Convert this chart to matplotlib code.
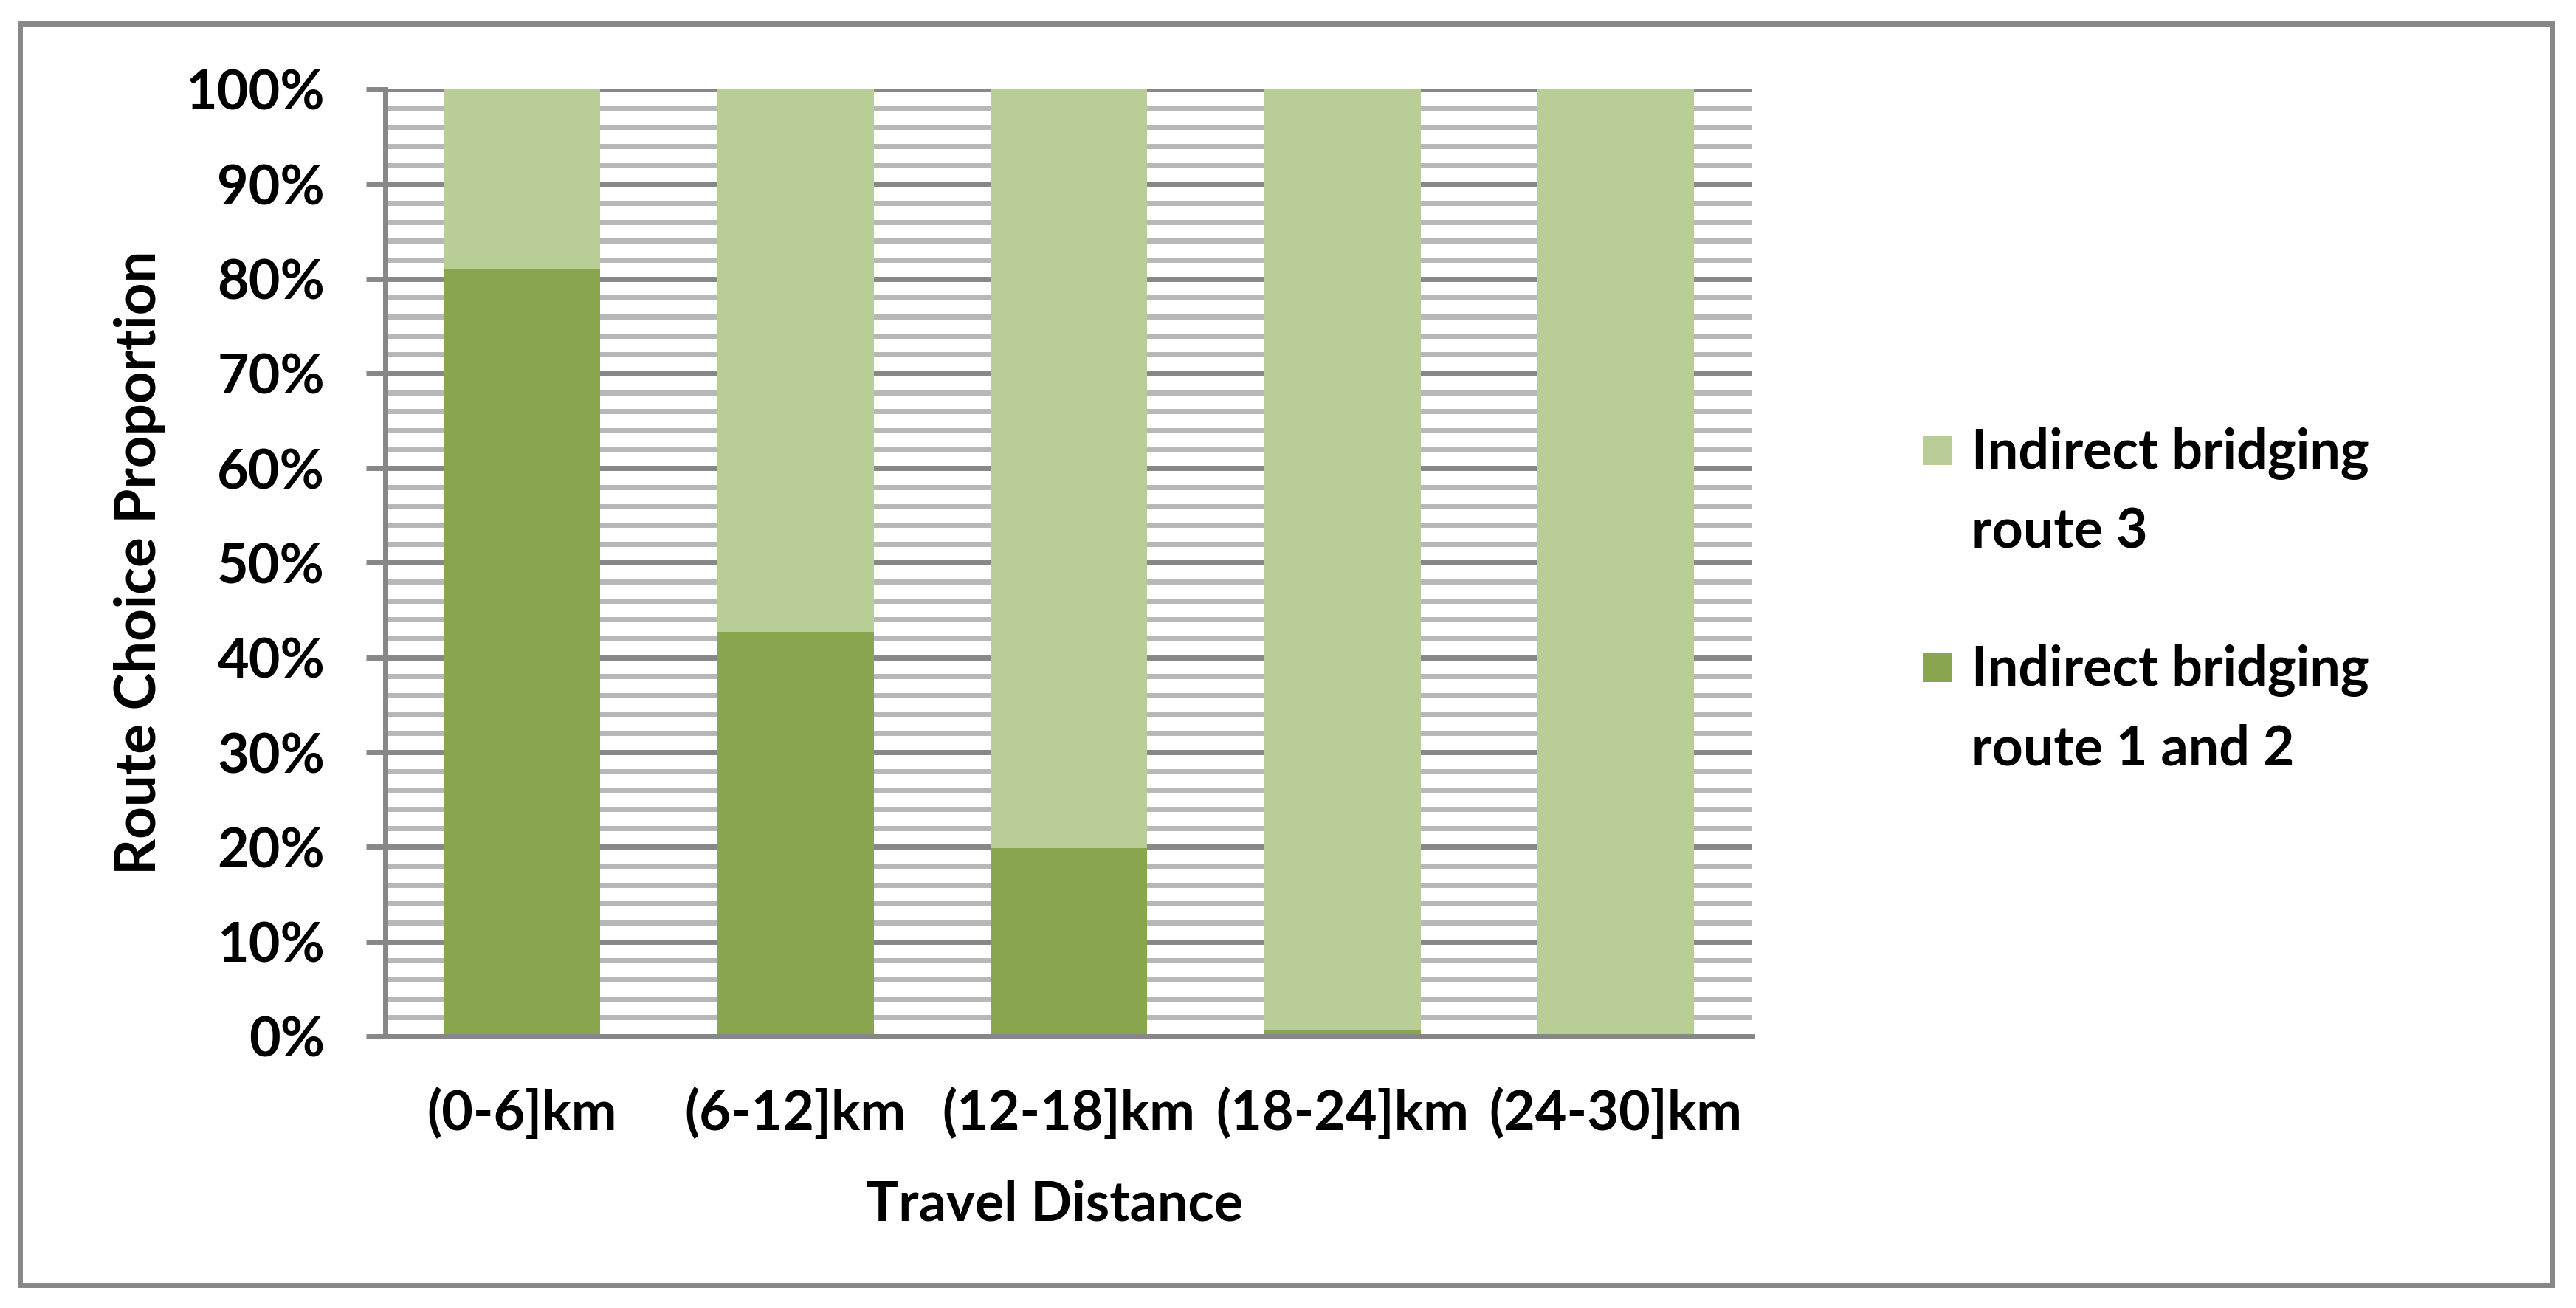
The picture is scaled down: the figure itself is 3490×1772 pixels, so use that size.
import matplotlib
matplotlib.use("Agg")
import matplotlib.pyplot as plt
from matplotlib.patches import Rectangle
from matplotlib.ticker import MultipleLocator, PercentFormatter

# ---- data ----
categories = ["(0-6]km", "(6-12]km", "(12-18]km", "(18-24]km", "(24-30]km"]
route_1_and_2 = [0.81, 0.427, 0.199, 0.007, 0.0]
route_3 = [1 - v for v in route_1_and_2]
series_names = ["Indirect bridging\nroute 3", "Indirect bridging\nroute 1 and 2"]
y_ticks = [0.0, 0.1, 0.2, 0.3, 0.4, 0.5, 0.6, 0.7, 0.8, 0.9, 1.0]

# ---- style ----
DARK = "#89A54E"
LIGHT = "#B9CD96"
GRID_MAJOR = "#878787"
GRID_MINOR = "#B7B7B7"
FONT = "Lato"
FS = 53

W, H, DPI = 3491, 1772, 100
fig = plt.figure(figsize=(W / DPI, H / DPI), dpi=DPI)
fig.patch.set_facecolor("white")

def px(x0, y0, x1, y1):
    return [x0 / W, 1 - y1 / H, (x1 - x0) / W, (y1 - y0) / H]

ax = fig.add_axes(px(522, 121, 2374, 1404))
ax.set_facecolor("white")

x = list(range(len(categories)))
bw = 0.573
ax.bar(x, route_1_and_2, width=bw, color=DARK, label=series_names[1], zorder=3, linewidth=0)
ax.bar(x, route_3, width=bw, bottom=route_1_and_2, color=LIGHT, label=series_names[0], zorder=3, linewidth=0)

ax.set_xlim(-0.5, len(categories) - 0.5)
ax.set_ylim(0, 1.0)
ax.set_yticks(y_ticks)
ax.yaxis.set_major_formatter(PercentFormatter(1.0, decimals=0))
ax.yaxis.set_minor_locator(MultipleLocator(0.02))
ax.set_xticks(x)
ax.set_xticklabels(categories)

ax.set_axisbelow(True)
ax.grid(axis="y", which="major", color=GRID_MAJOR, linewidth=5, zorder=1)
ax.grid(axis="y", which="minor", color=GRID_MINOR, linewidth=5, zorder=0)

for s in ["top", "right"]:
    ax.spines[s].set_visible(False)
for s in ["left", "bottom"]:
    ax.spines[s].set_color(GRID_MAJOR)
    ax.spines[s].set_linewidth(5)
    ax.spines[s].set_zorder(4)

ax.tick_params(axis="y", which="major", length=19, width=5, color=GRID_MAJOR, pad=40,
               labelsize=FS)
ax.tick_params(axis="y", which="minor", length=0)
ax.tick_params(axis="x", which="both", length=0, pad=50, labelsize=FS)
for lbl in ax.get_xticklabels() + ax.get_yticklabels():
    lbl.set_fontfamily(FONT)
    lbl.set_fontweight("bold")

ax.set_xlabel("Travel Distance", fontsize=FS, fontweight="bold", family=FONT, va="center")
ax.xaxis.set_label_coords(0.4897, -0.1777)
ax.set_ylabel("Route Choice Proportion", fontsize=FS + 2, fontweight="bold", family=FONT, va="center")
ax.yaxis.set_label_coords(-0.18, 0.5)

# ---- legend (manual, Excel-like: square aligned with first line) ----
legend_colors = [LIGHT, DARK]
sq_tops = [590, 884]
for name, col, top in zip(series_names, legend_colors, sq_tops):
    fig.patches.append(Rectangle((2605 / W, 1 - (top + 40) / H), 40 / W, 40 / H,
                                 transform=fig.transFigure, facecolor=col,
                                 edgecolor="none", figure=fig))
    fig.text(2671 / W, 1 - (top - 11) / H, name, fontsize=FS, fontweight="bold",
             family=FONT, ha="left", va="top", linespacing=1.65)

# ---- outer chart border ----
fig.patches.append(Rectangle((27 / W, 1 - 1741 / H), (3458 - 27) / W, (1741 - 32) / H,
                             transform=fig.transFigure, facecolor="none",
                             edgecolor=GRID_MAJOR, linewidth=5, figure=fig))

fig.savefig("out.png", dpi=DPI)
